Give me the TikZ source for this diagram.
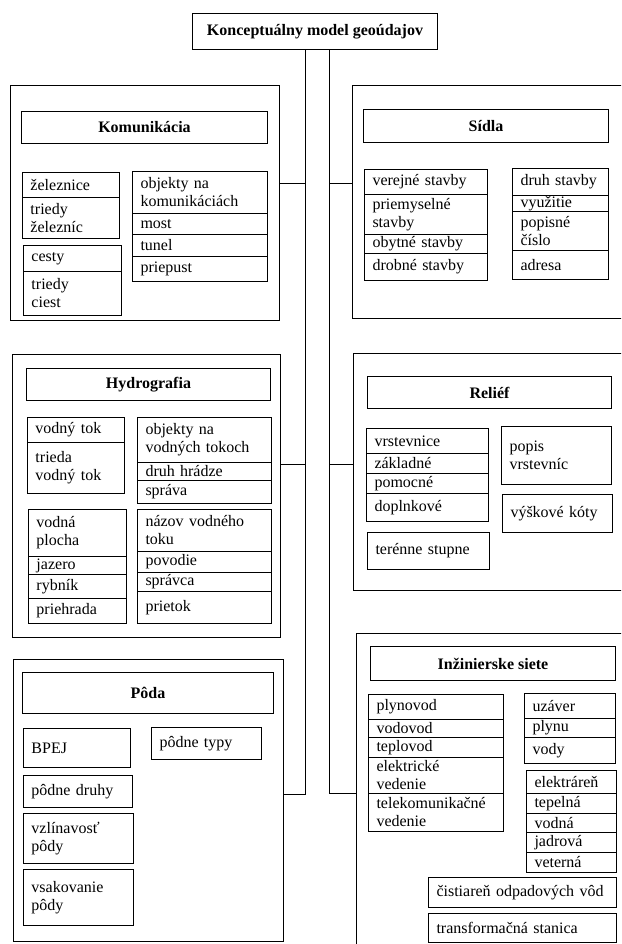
\documentclass[tikz,border=0pt]{standalone}
\usepackage{fontspec}
\setmainfont{Liberation Serif}
\usepackage{tikz}
\usetikzlibrary{calc}

\tikzset{
  panel/.style 2 args={draw, line width=0.035cm, anchor=north west, inner sep=0pt,
    minimum width=#1, minimum height=#2},
  head/.style 2 args={draw, line width=0.035cm, anchor=north west, inner sep=0pt,
    minimum width=#1, minimum height=#2, font=\bfseries},
  cell/.style 2 args={draw, line width=0.035cm, anchor=north west, inner xsep=8pt,
    inner ysep=0pt, minimum width=#1, minimum height=#2, text width=#1pt-16pt, align=left},
  trunk/.style={line width=0.035cm}
}

\begin{document}
\fontsize{16}{18}\selectfont
\begin{tikzpicture}[x=1pt,y=-1pt]
\useasboundingbox (0,0) rectangle (621,944);
\clip (0,0) rectangle (621,944);

% Title of the model
\node[head={245}{36}] (title) at (192,13) {Konceptuálny model geoúdajov};

% Panel Komunikacia
\node[panel={269}{235}] (kom) at (10,85) {};
\node[head={246}{32}] (komT) at (21,111) {Komunikácia};
\node[cell={97}{25}] (k11) at (22,172) {železnice};
\node[cell={97}{41}] (k12) at (22,197) {triedy\\železníc};
\node[cell={98}{26}] (k21) at (23,245) {cesty};
\node[cell={98}{44}] (k22) at (23,271) {triedy\\ciest};
\node[cell={135}{42}] (k31) at (132,171) {objekty na\\komunikáciách};
\node[cell={135}{21}] (k32) at (132,213) {most};
\node[cell={135}{22}] (k33) at (132,234) {tunel};
\node[cell={135}{25}] (k34) at (132,256) {priepust};

% Panel Sidla
\node[panel={271}{233}] (sid) at (352,85) {};
\node[head={245}{33}] (sidT) at (363,109) {Sídla};
\node[cell={123}{25}] (s11) at (364,169) {verejné stavby};
\node[cell={123}{40}] (s12) at (364,194) {priemyselné\\stavby};
\node[cell={123}{19}] (s13) at (364,234) {obytné stavby};
\node[cell={123}{27}] (s14) at (364,253) {drobné stavby};
\node[cell={96}{27}] (s21) at (512,168) {druh stavby};
\node[cell={96}{16}] (s22) at (512,195) {využitie};
\node[cell={96}{39}] (s23) at (512,211) {popisné\\číslo};
\node[cell={96}{29}] (s24) at (512,250) {adresa};

% Panel Hydrografia
\node[panel={268}{283}] (hyd) at (12,354) {};
\node[head={244}{32}] (hydT) at (26,368) {Hydrografia};
\node[cell={97}{25}] (h11) at (27,417) {vodný tok};
\node[cell={97}{51}] (h12) at (27,442) {trieda\\vodný tok};
\node[cell={134}{45}] (h21) at (137,417) {objekty na\\vodných tokoch};
\node[cell={134}{18}] (h22) at (137,462) {druh hrádze};
\node[cell={134}{23}] (h23) at (137,480) {správa};
\node[cell={98}{47}] (h31) at (28,509) {vodná\\plocha};
\node[cell={98}{18}] (h32) at (28,556) {jazero};
\node[cell={98}{24}] (h33) at (28,574) {rybník};
\node[cell={98}{25}] (h34) at (28,598) {priehrada};
\node[cell={134}{42}] (h41) at (137,509) {názov vodného\\toku};
\node[cell={134}{21}] (h42) at (137,551) {povodie};
\node[cell={134}{19}] (h43) at (137,572) {správca};
\node[cell={134}{32}] (h44) at (137,591) {prietok};

% Panel Relief
\node[panel={270}{237}] (rel) at (353,353) {};
\node[head={244}{32}] (relT) at (367,376) {Reliéf};
\node[cell={122}{25}] (r11) at (366,428) {vrstevnice};
\node[cell={122}{20}] (r12) at (366,453) {základné};
\node[cell={122}{20}] (r13) at (366,473) {pomocné};
\node[cell={122}{28}] (r14) at (366,493) {doplnkové};
\node[cell={110}{58}] (r2) at (501,426) {popis\\vrstevníc};
\node[cell={110}{38}] (r3) at (502,494) {výškové kóty};
\node[cell={122}{37}] (r4) at (367,532) {terénne stupne};

% Panel Poda
\node[panel={270}{282}] (pod) at (13,659) {};
\node[head={251}{41}] (podT) at (22,672) {Pôda};
\node[cell={107}{39}] (p1) at (23,728) {BPEJ};
\node[cell={110}{32}] (p2) at (151,727) {pôdne typy};
\node[cell={109}{32}] (p3) at (23,775) {pôdne druhy};
\node[cell={110}{50}] (p4) at (23,813) {vzlínavosť\\pôdy};
\node[cell={110}{56}] (p5) at (23,869) {vsakovanie\\pôdy};

% Panel Inzinierske siete
\node[panel={267}{327}] (inz) at (356,633) {};
\node[head={245}{34}] (inzT) at (370,646) {Inžinierske siete};
\node[cell={135}{25}] (i11) at (368,694) {plynovod};
\node[cell={135}{18}] (i12) at (368,719) {vodovod};
\node[cell={135}{20}] (i13) at (368,737) {teplovod};
\node[cell={135}{36}] (i14) at (368,757) {elektrické\\vedenie};
\node[cell={135}{38}] (i15) at (368,793) {telekomunikačné\\vedenie};
\node[cell={91}{25}] (i21) at (524,693) {uzáver};
\node[cell={91}{19}] (i22) at (524,718) {plynu};
\node[cell={91}{26}] (i23) at (524,737) {vody};
\node[cell={90}{23}] (i31) at (526,770) {elektráreň};
\node[cell={90}{20}] (i32) at (526,793) {tepelná};
\node[cell={90}{19}] (i33) at (526,813) {vodná};
\node[cell={90}{20}] (i34) at (526,832) {jadrová};
\node[cell={90}{20}] (i35) at (526,852) {veterná};
\node[cell={188}{30}] (i4) at (428,877) {čistiareň odpadových vôd};
\node[cell={188}{29}] (i5) at (428,913) {transformačná stanica};

% Trunk joints
\coordinate (jK) at (305,183);
\coordinate (jH) at (305,464);
\coordinate (jP) at (305,794);
\coordinate (jS) at (329,183);
\coordinate (jR) at (329,464);
\coordinate (jI) at (329,793);

% Left trunk and its branches
\draw[trunk] (title.south -| jP) -- (jP) -- (jP -| pod.east);
\draw[trunk] (jK) -- (jK -| kom.east);
\draw[trunk] (jH) -- (jH -| hyd.east);

% Right trunk and its branches
\draw[trunk] (title.south -| jI) -- (jI) -- (jI -| inz.west);
\draw[trunk] (jS) -- (jS -| sid.west);
\draw[trunk] (jR) -- (jR -| rel.west);
\end{tikzpicture}
\end{document}
